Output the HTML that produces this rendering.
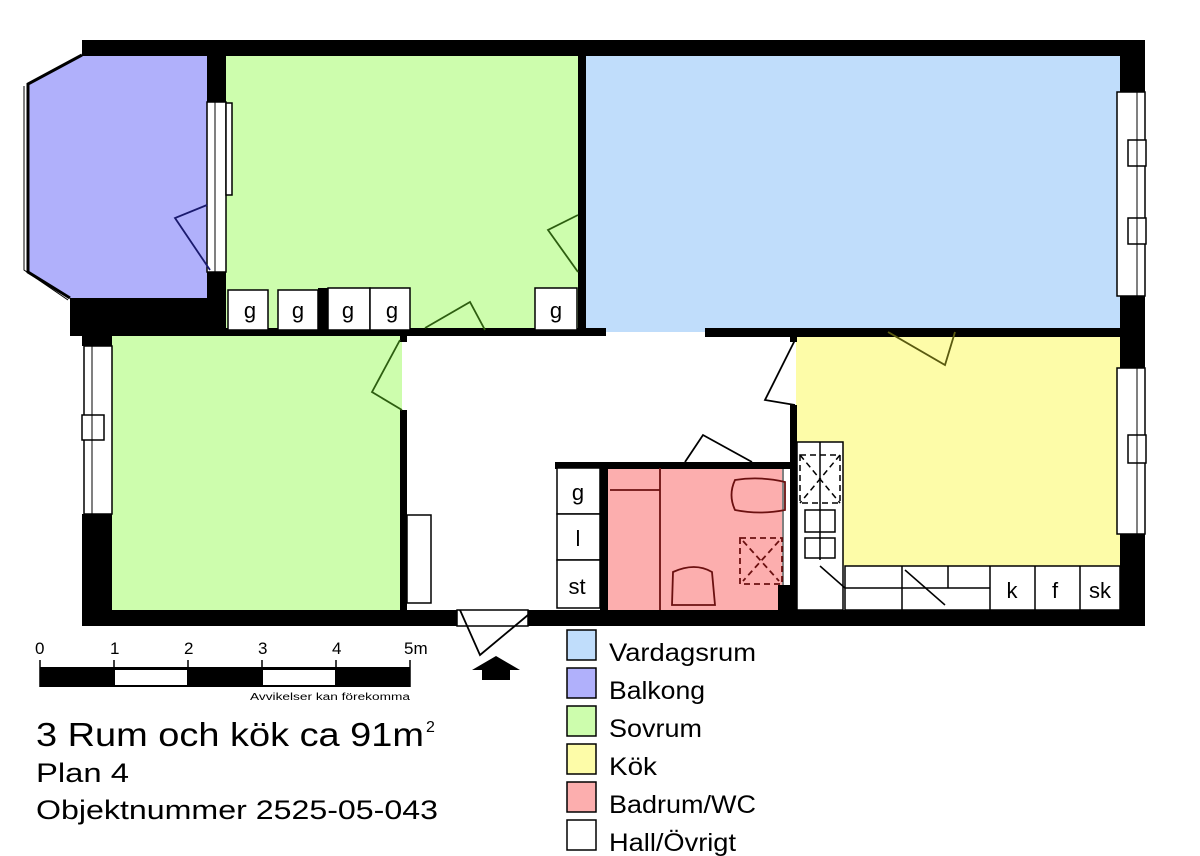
<!DOCTYPE html>
<html><head><meta charset="utf-8"><style>
html,body{margin:0;padding:0;background:#fff;}
svg{display:block;}
text{font-family:"Liberation Sans",sans-serif;}
</style></head><body>
<svg width="1200" height="856" viewBox="0 0 1200 856" xmlns="http://www.w3.org/2000/svg">
<polygon points="82,55 207,55 207,298 70,298 27,272 27,84" fill="#b0b0fb"/>
<rect x="225" y="55" width="355" height="277" fill="#cdfdad"/>
<rect x="585" y="55" width="537" height="277" fill="#c0ddfb"/>
<rect x="110" y="336" width="292" height="275" fill="#cdfdad"/>
<rect x="796" y="336" width="326" height="230" fill="#fdfca8"/>
<rect x="606" y="466" width="176" height="146" fill="#fcaeae"/>

<polyline points="82,55 28,84 28,272 70,298" fill="none" stroke="#000" stroke-width="3"/>
<polyline points="24,86 24,270 68,300" fill="none" stroke="#000" stroke-width="1"/>

<g fill="#000">
<rect x="82" y="40" width="1063" height="16"/>
<rect x="1120" y="40" width="25" height="52"/>
<rect x="1120" y="296" width="25" height="72"/>
<rect x="1120" y="534" width="25" height="92"/>
<rect x="207" y="40" width="19" height="62"/>
<rect x="207" y="272" width="19" height="64"/>
<rect x="70" y="298" width="156" height="38"/>
<rect x="82" y="298" width="30" height="48"/>
<rect x="82" y="514" width="30" height="112"/>
<rect x="82" y="610" width="375" height="16"/>
<rect x="528" y="610" width="617" height="16"/>
<rect x="578" y="56" width="8" height="276"/>
<rect x="226" y="328" width="380" height="8"/>
<rect x="318" y="288" width="10" height="44"/>
<rect x="705" y="328" width="417" height="9"/>
<rect x="400" y="410" width="7" height="200"/>
<rect x="400" y="336" width="7" height="6"/>
<rect x="790" y="336" width="7" height="6"/>
<rect x="790" y="405" width="7" height="205"/>
<rect x="555" y="462" width="238" height="7"/>
<rect x="600" y="462" width="8" height="148"/>
<rect x="778" y="585" width="12" height="26"/>
</g>
<g fill="#fff" stroke="#000" stroke-width="1.5">
<rect x="207" y="102" width="19" height="170"/>
<rect x="226" y="103" width="6" height="92"/>
<rect x="84" y="346" width="28" height="168"/>
<rect x="82" y="415" width="22" height="25"/>
<rect x="1117" y="92" width="28" height="204"/>
<rect x="1128" y="140" width="18" height="26"/>
<rect x="1128" y="218" width="18" height="26"/>
<rect x="1117" y="368" width="28" height="166"/>
<rect x="1128" y="435" width="18" height="28"/>
<rect x="407" y="515" width="24" height="88"/>
<rect x="457" y="610" width="71" height="16"/>
</g>
<g stroke="#000" stroke-width="1">
<line x1="215" y1="102" x2="215" y2="272"/><line x1="92" y1="346" x2="92" y2="514"/>
<line x1="1137" y1="92" x2="1137" y2="296"/><line x1="1137" y1="368" x2="1137" y2="534"/>
<line x1="783" y1="468" x2="783" y2="585"/>
</g>

<g fill="#fff" stroke="#000" stroke-width="1.5">
<rect x="228" y="290" width="40" height="40"/><rect x="278" y="290" width="40" height="40"/>
<rect x="328" y="288" width="42" height="42"/><rect x="370" y="288" width="40" height="42"/>
<rect x="535" y="288" width="42" height="42"/>
<rect x="557" y="468" width="43" height="46"/><rect x="557" y="514" width="43" height="46"/><rect x="557" y="560" width="43" height="48"/>
<rect x="797" y="442" width="46" height="168"/>
<rect x="845" y="566" width="275" height="44"/>
</g>
<g font-size="22" text-anchor="middle" fill="#000">
<text x="250" y="318">g</text><text x="298" y="318">g</text><text x="348" y="318">g</text><text x="392" y="318">g</text><text x="556" y="318">g</text>
<text x="578" y="500">g</text><text x="578" y="546">l</text><text x="577" y="594">st</text>
<text x="1012" y="598">k</text><text x="1055" y="598">f</text><text x="1100" y="598">sk</text>
</g>
<g stroke="#000" stroke-width="1.5" fill="none">
<line x1="845" y1="588" x2="990" y2="588"/>
<line x1="902" y1="566" x2="902" y2="610"/><line x1="948" y1="566" x2="948" y2="588"/>
<line x1="990" y1="566" x2="990" y2="610"/><line x1="1035" y1="566" x2="1035" y2="610"/><line x1="1080" y1="566" x2="1080" y2="610"/>
<line x1="820" y1="566" x2="845" y2="588"/>
<line x1="905" y1="570" x2="945" y2="605"/>
<rect x="805" y="510" width="30" height="22"/><rect x="805" y="538" width="30" height="20"/>
<line x1="820" y1="442" x2="820" y2="560"/>
<rect x="800" y="455" width="40" height="48" stroke-dasharray="6,4"/>
<line x1="800" y1="455" x2="840" y2="503" stroke-dasharray="6,4"/>
<line x1="840" y1="455" x2="800" y2="503" stroke-dasharray="6,4"/>
</g>
<g stroke="#6b1010" stroke-width="1.8" fill="none">
<line x1="610" y1="490" x2="660" y2="490"/><line x1="660" y1="468" x2="660" y2="610"/>
<path d="M735 480 Q760 476 785 482 L785 510 Q760 515 735 510 Q728 495 735 480 Z"/>
<path d="M673 572 Q695 562 712 572 L715 605 L672 605 Z"/>
<rect x="740" y="538" width="42" height="46" stroke-dasharray="6,4"/>
<line x1="743" y1="541" x2="779" y2="581" stroke-dasharray="6,4"/>
<line x1="779" y1="541" x2="743" y2="581" stroke-dasharray="6,4"/>
</g>
<g fill="none" stroke-width="1.8">
<polyline points="207,205 175,218 210,270" stroke="#1a1a6e"/>
<polyline points="578,215 548,230 578,272" stroke="#2d5e10"/>
<polyline points="425,328 470,302 485,330" stroke="#2d5e10"/>
<polyline points="400,340 372,392 402,410" stroke="#2d5e10"/>
<polyline points="795,340 765,400 795,405" stroke="#000"/>
<polyline points="685,462 703,435 752,462" stroke="#000"/>
<polyline points="888,332 945,365 955,332" stroke="#5a5a10"/>
<polyline points="460,610 480,655 528,615" stroke="#000"/>
</g>
<polygon points="496,656 520,670 510,670 510,680 482,680 482,670 472,670" fill="#000"/>

<rect x="40" y="667" width="370" height="20" fill="#000"/>
<rect x="115" y="670" width="72" height="15" fill="#fff"/>
<rect x="263" y="670" width="72" height="15" fill="#fff"/>
<g stroke="#000" stroke-width="1.5"><line x1="40" y1="660" x2="40" y2="687"/><line x1="114" y1="660" x2="114" y2="687"/><line x1="188" y1="660" x2="188" y2="687"/><line x1="262" y1="660" x2="262" y2="687"/><line x1="336" y1="660" x2="336" y2="687"/><line x1="410" y1="660" x2="410" y2="687"/></g>
<g font-size="17" fill="#000">
<text x="35" y="654">0</text><text x="110" y="654">1</text><text x="184" y="654">2</text><text x="258" y="654">3</text><text x="332" y="654">4</text><text x="404" y="654">5m</text>
<text x="250" y="700" font-size="10" textLength="160" lengthAdjust="spacingAndGlyphs">Avvikelser kan förekomma</text>
<text x="36" y="746" font-size="33" textLength="388" lengthAdjust="spacingAndGlyphs">3 Rum och kök ca 91m</text>
<text x="426" y="732" font-size="16">2</text>
<text x="36" y="782" font-size="27" textLength="93" lengthAdjust="spacingAndGlyphs">Plan 4</text>
<text x="36" y="819" font-size="27" textLength="402" lengthAdjust="spacingAndGlyphs">Objektnummer 2525-05-043</text>
</g>
<g stroke="#000" stroke-width="1.5">
<rect x="567" y="630" width="29" height="30" fill="#c0ddfb"/>
<rect x="567" y="668" width="29" height="30" fill="#b0b0fb"/>
<rect x="567" y="706" width="29" height="30" fill="#cdfdad"/>
<rect x="567" y="744" width="29" height="30" fill="#fdfca8"/>
<rect x="567" y="782" width="29" height="30" fill="#fcaeae"/>
<rect x="567" y="820" width="29" height="30" fill="#fff"/>
</g>
<g font-size="25" fill="#000">
<text x="609" y="661" textLength="147" lengthAdjust="spacingAndGlyphs">Vardagsrum</text>
<text x="609" y="699" textLength="96" lengthAdjust="spacingAndGlyphs">Balkong</text>
<text x="609" y="737" textLength="93" lengthAdjust="spacingAndGlyphs">Sovrum</text>
<text x="609" y="775" textLength="48" lengthAdjust="spacingAndGlyphs">Kök</text>
<text x="609" y="813" textLength="147" lengthAdjust="spacingAndGlyphs">Badrum/WC</text>
<text x="609" y="851" textLength="127" lengthAdjust="spacingAndGlyphs">Hall/Övrigt</text>
</g>
</svg>
</body></html>
